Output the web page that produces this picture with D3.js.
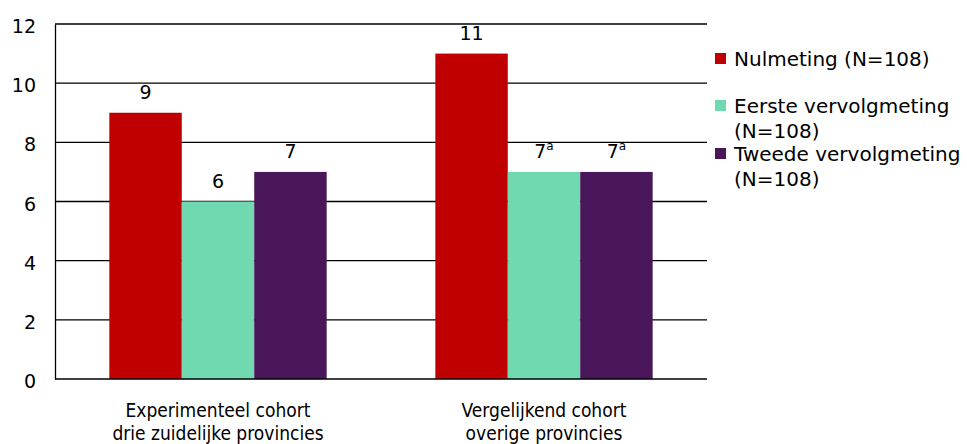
<!DOCTYPE html>
<html><head><meta charset="utf-8">
<script src="https://cdn.jsdelivr.net/npm/d3@7"></script>
<style>body{margin:0;background:#fff}svg{display:block;font-family:"DejaVu Sans",Verdana,sans-serif}</style>
</head><body><svg id="c" width="967" height="444"></svg>
<script>
const categories = [["Experimenteel cohort","drie zuidelijke provincies"],["Vergelijkend cohort","overige provincies"]];
const seriesNames = [["Nulmeting (N=108)"],["Eerste vervolgmeting","(N=108)"],["Tweede vervolgmeting","(N=108)"]];
const nulmeting = [9, 11];
const eerste = [6, 7];
const tweede = [7, 7];
const superscripts = [["",""],["","a"],["","a"]];
const yTicks = [0,2,4,6,8,10,12];
const colors = ["#C00000","#70D9AF","#491659"];

const series = [nulmeting, eerste, tweede];
const svg = d3.select("#c");
const m = {l:55, t:24, r:707, b:379};
const x = d3.scaleBand().domain([0,1]).range([m.l, m.r]).paddingInner(0).paddingOuter(0);
const y = d3.scaleLinear().domain([0,12]).range([m.b, m.t]);
const inner = d3.scaleBand().domain([0,1,2]).range([0, x.bandwidth()]).paddingOuter(0.75).paddingInner(0);
const cond = '"DejaVu Sans Condensed","DejaVu Sans",sans-serif';

// gridlines
svg.append("g").selectAll("line").data(yTicks.filter(d=>d>0)).join("line")
  .attr("x1", m.l).attr("x2", m.r).attr("y1", d=>y(d)).attr("y2", d=>y(d))
  .attr("stroke", "#000").attr("stroke-width", 1.3);

// bars
series.forEach((vals, si) => {
  svg.append("g").selectAll("rect").data(vals).join("rect")
    .attr("x", (d,i)=>x(i)+inner(si)).attr("width", inner.bandwidth())
    .attr("y", d=>y(d)).attr("height", d=>y(0)-y(d)).attr("fill", colors[si]);
  const t = svg.append("g").selectAll("text").data(vals).join("text")
    .attr("x", (d,i)=>x(i)+inner(si)+inner.bandwidth()/2)
    .attr("y", d=>y(d)-14).attr("text-anchor","middle")
    .attr("font-size", 19).attr("fill","#000");
  t.text(d=>d);
  t.append("tspan").attr("font-size", 12).attr("dy", -8).text((d,i)=>superscripts[si][i]);
});

// axes
const yAxis = d3.axisLeft(y).tickValues(yTicks).tickSize(0).tickPadding(19);
const ga = svg.append("g").attr("transform", `translate(${m.l},0)`).call(yAxis);
ga.select(".domain").attr("stroke","#000").attr("stroke-width",1.3);
ga.selectAll("text").attr("font-size",19).attr("font-family","DejaVu Sans").attr("fill","#000").attr("dy","0.45em");
svg.append("line").attr("x1", m.l).attr("x2", m.r).attr("y1", y(0)).attr("y2", y(0)).attr("stroke","#000").attr("stroke-width",1.3);

// category labels
const cl = svg.append("g").selectAll("text").data(categories).join("text")
  .attr("text-anchor","middle").attr("font-size",19).attr("font-family",cond).attr("fill","#000");
cl.selectAll("tspan").data(d=>d).join("tspan")
  .attr("x", function(){ const i = categories.indexOf(d3.select(this.parentNode).datum()); return x(i)+x.bandwidth()/2; })
  .attr("y", (d,j)=>417 + j*23).text(d=>d);

// legend
const legSq = [53, 100, 148];
const lg = svg.append("g");
seriesNames.forEach((lines, si) => {
  lg.append("rect").attr("x",715).attr("y",legSq[si]).attr("width",11).attr("height",11).attr("fill",colors[si]);
  const t = lg.append("text").attr("font-size",20).attr("fill","#000");
  lines.forEach((l,j)=> t.append("tspan").attr("x",734).attr("y",legSq[si]+12.5+j*25.5).text(l));
});
</script></body></html>
